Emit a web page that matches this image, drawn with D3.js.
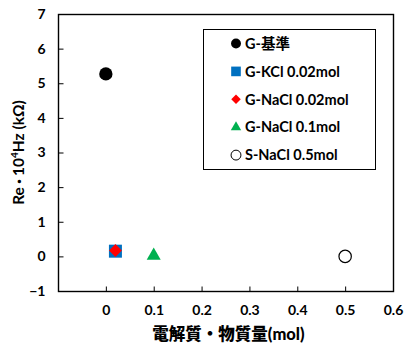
<!DOCTYPE html>
<html>
<head>
<meta charset="utf-8">
<script src="https://cdn.jsdelivr.net/npm/d3@7"></script>
<style>
  body { margin: 0; background: #fff; }
  text { font-family: Lato, "Noto Sans CJK JP", sans-serif; font-weight: bold; fill: #000; }
</style>
</head>
<body>
<div id="chart"></div>
<script>
"use strict";

// Series: name, x (mol), y (kOhm)
const seriesNames = ["G-基準", "G-KCl 0.02mol", "G-NaCl 0.02mol", "G-NaCl 0.1mol", "S-NaCl 0.5mol"];
const seriesX = [0, 0.02, 0.02, 0.1, 0.5];
const seriesY = [5.27, 0.15, 0.17, 0.02, 0.0];
const seriesShape = ["circle", "square", "diamond", "triangle", "circle"];
const seriesColor = ["#000000", "#0070c0", "#ff0000", "#00b050", "#ffffff"];
const xTicks = [-0.1, 0, 0.1, 0.2, 0.3, 0.4, 0.5, 0.6];
const yTicks = [-1, 0, 1, 2, 3, 4, 5, 6, 7];

const width = 404, height = 344;
const margin = {top: 14, right: 11, bottom: 53, left: 58};

const svg = d3.select("#chart").append("svg")
    .attr("width", width)
    .attr("height", height);

let x = d3.scaleLinear().domain([-0.1, 0.6])
    .range([margin.left, width - margin.right]);
let y = d3.scaleLinear().domain([-1, 7])
    .range([height - margin.bottom, margin.top]);

// Plot frame
svg.append("rect")
    .attr("x", x(-0.1) + 0.5)
    .attr("y", y(7) + 0.5)
    .attr("width", x(0.6) - x(-0.1))
    .attr("height", y(-1) - y(7))
    .style("fill", "none")
    .style("stroke", "#000")
    .style("stroke-width", "1.4px");

// Axes with inward ticks
let xAxis = d3.axisBottom(x).tickValues(xTicks).tickSize(-5).tickPadding(14)
    .tickFormat(d => (Math.abs(d + 0.1) < 1e-9 ? "" : d3.format("")(+d.toFixed(1))));
let gx = svg.append("g")
    .attr("transform", "translate(0," + (y(-1) + 0.5) + ")")
    .call(xAxis);
gx.select(".domain").remove();
gx.selectAll("text").style("font-size", "14px");

let yAxis = d3.axisLeft(y).tickValues(yTicks).tickSize(-5).tickPadding(13);
let gy = svg.append("g")
    .attr("transform", "translate(" + (x(-0.1) + 0.5) + ",0)")
    .call(yAxis);
gy.select(".domain").remove();
gy.selectAll("text").style("font-size", "14px");

// Axis titles
svg.append("text")
    .attr("x", (x(-0.1) + x(0.6)) / 2 + 3)
    .attr("y", 340)
    .style("text-anchor", "middle")
    .style("font-size", "16.5px")
    .style("font-weight", "900")
    .text("電解質・物質量(mol)");

let yt = svg.append("text")
    .attr("transform", "translate(24," + ((y(-1) + y(7)) / 2) + ") rotate(-90)")
    .style("text-anchor", "middle")
    .style("font-size", "15.5px");
yt.append("tspan").text("Re");
yt.append("tspan").style("font-size", "13px").attr("dx", -1).text("・");
yt.append("tspan").attr("dx", -1).text("10");
yt.append("tspan").attr("dy", -6).style("font-size", "10px").text("4");
yt.append("tspan").attr("dy", 6).text("Hz (kΩ)");

function symbolFor(shape, size) {
    let type = {circle: d3.symbolCircle, square: d3.symbolSquare,
                diamond: d3.symbolDiamond2, triangle: d3.symbolTriangle}[shape];
    return d3.symbol().type(type).size(size)();
}
const markerSize = {circle: 140, square: 169, diamond: 105, triangle: 85};

// Points
svg.selectAll(".pt").data(seriesNames).enter().append("path")
    .attr("class", "pt")
    .attr("transform", (d, i) => "translate(" + x(seriesX[i]) + "," + y(seriesY[i]) + ")")
    .attr("d", (d, i) => symbolFor(seriesShape[i], i === 4 ? 120 : markerSize[seriesShape[i]]))
    .style("fill", (d, i) => seriesColor[i])
    .style("stroke", (d, i) => i === 4 ? "#000" : "none")
    .style("stroke-width", "1.2px");

// Legend
let lg = svg.append("g");
lg.append("rect")
    .attr("x", 203.5).attr("y", 29.5)
    .attr("width", 172).attr("height", 140)
    .style("fill", "#fff")
    .style("stroke", "#000")
    .style("stroke-width", "1px");
let items = lg.selectAll(".lg_item").data(seriesNames).enter().append("g")
    .attr("class", "lg_item")
    .attr("transform", (d, i) => "translate(236," + (43.5 + i * 27.9) + ")");
items.append("path")
    .attr("d", (d, i) => symbolFor(seriesShape[i], markerSize[seriesShape[i]] * 0.55))
    .style("fill", (d, i) => seriesColor[i])
    .style("stroke", (d, i) => i === 4 ? "#000" : "none");
items.append("text")
    .attr("x", 9)
    .attr("dy", "0.36em")
    .style("font-size", "14.5px")
    .text(d => d);
</script>
</body>
</html>
